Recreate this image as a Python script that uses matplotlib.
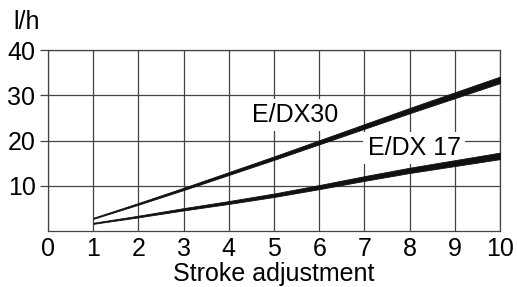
import matplotlib.pyplot as plt
import numpy as np

plt.rcParams['font.family'] = ['Liberation Sans', 'DejaVu Sans']

# stroke adjustment positions
stroke = np.array([1, 2, 3, 4, 5, 6, 7, 8, 9, 10])
# flow in l/h
flow_dx30 = np.array([2.8, 6.0, 9.3, 12.7, 16.1, 19.6, 23.1, 26.6, 30.0, 33.4])
flow_dx17 = np.array([1.7, 3.2, 4.8, 6.3, 7.9, 9.7, 11.6, 13.4, 15.0, 16.6])

x_ticks = list(range(0, 11))
y_ticks = [10, 20, 30, 40]

fs = 18

fig = plt.figure(figsize=(5.17, 2.87), dpi=100)
ax = fig.add_axes([48/517, 1-231/287, 452/517, 181/287])

ax.set_xlim(0, 10)
ax.set_ylim(0, 40)
ax.set_xticks(x_ticks)
ax.set_yticks(y_ticks)
ax.tick_params(axis='x', length=0, pad=4, labelsize=fs)
ax.tick_params(axis='y', length=6, width=0.9, pad=3, labelsize=fs, color='#444')
ax.grid(True, color='#444', lw=0.9, zorder=0)
ax.set_axisbelow(True)
for s in ax.spines.values():
    s.set_color('#444')
    s.set_linewidth(0.9)

# lines get thicker towards full stroke
half = np.linspace(0.12, 0.72, len(stroke))
ax.fill_between(stroke, flow_dx30 - half, flow_dx30 + half, color='#111', lw=0.6, zorder=4)
ax.fill_between(stroke, flow_dx17 - half, flow_dx17 + half, color='#111', lw=0.6, zorder=4)

box = dict(facecolor='white', edgecolor='none', pad=3)
ax.text(5.46, 25.6, 'E/DX30', fontsize=fs, ha='center', va='center', bbox=box, zorder=3)
ax.text(8.1, 18.3, 'E/DX 17', fontsize=fs, ha='center', va='center', bbox=box, zorder=3)

ax.set_xlabel('Stroke adjustment', fontsize=fs, labelpad=1)
fig.text(13/517, 1-22/287, 'l/h', fontsize=fs, ha='left', va='center')

fig.savefig('out.png', dpi=100)
